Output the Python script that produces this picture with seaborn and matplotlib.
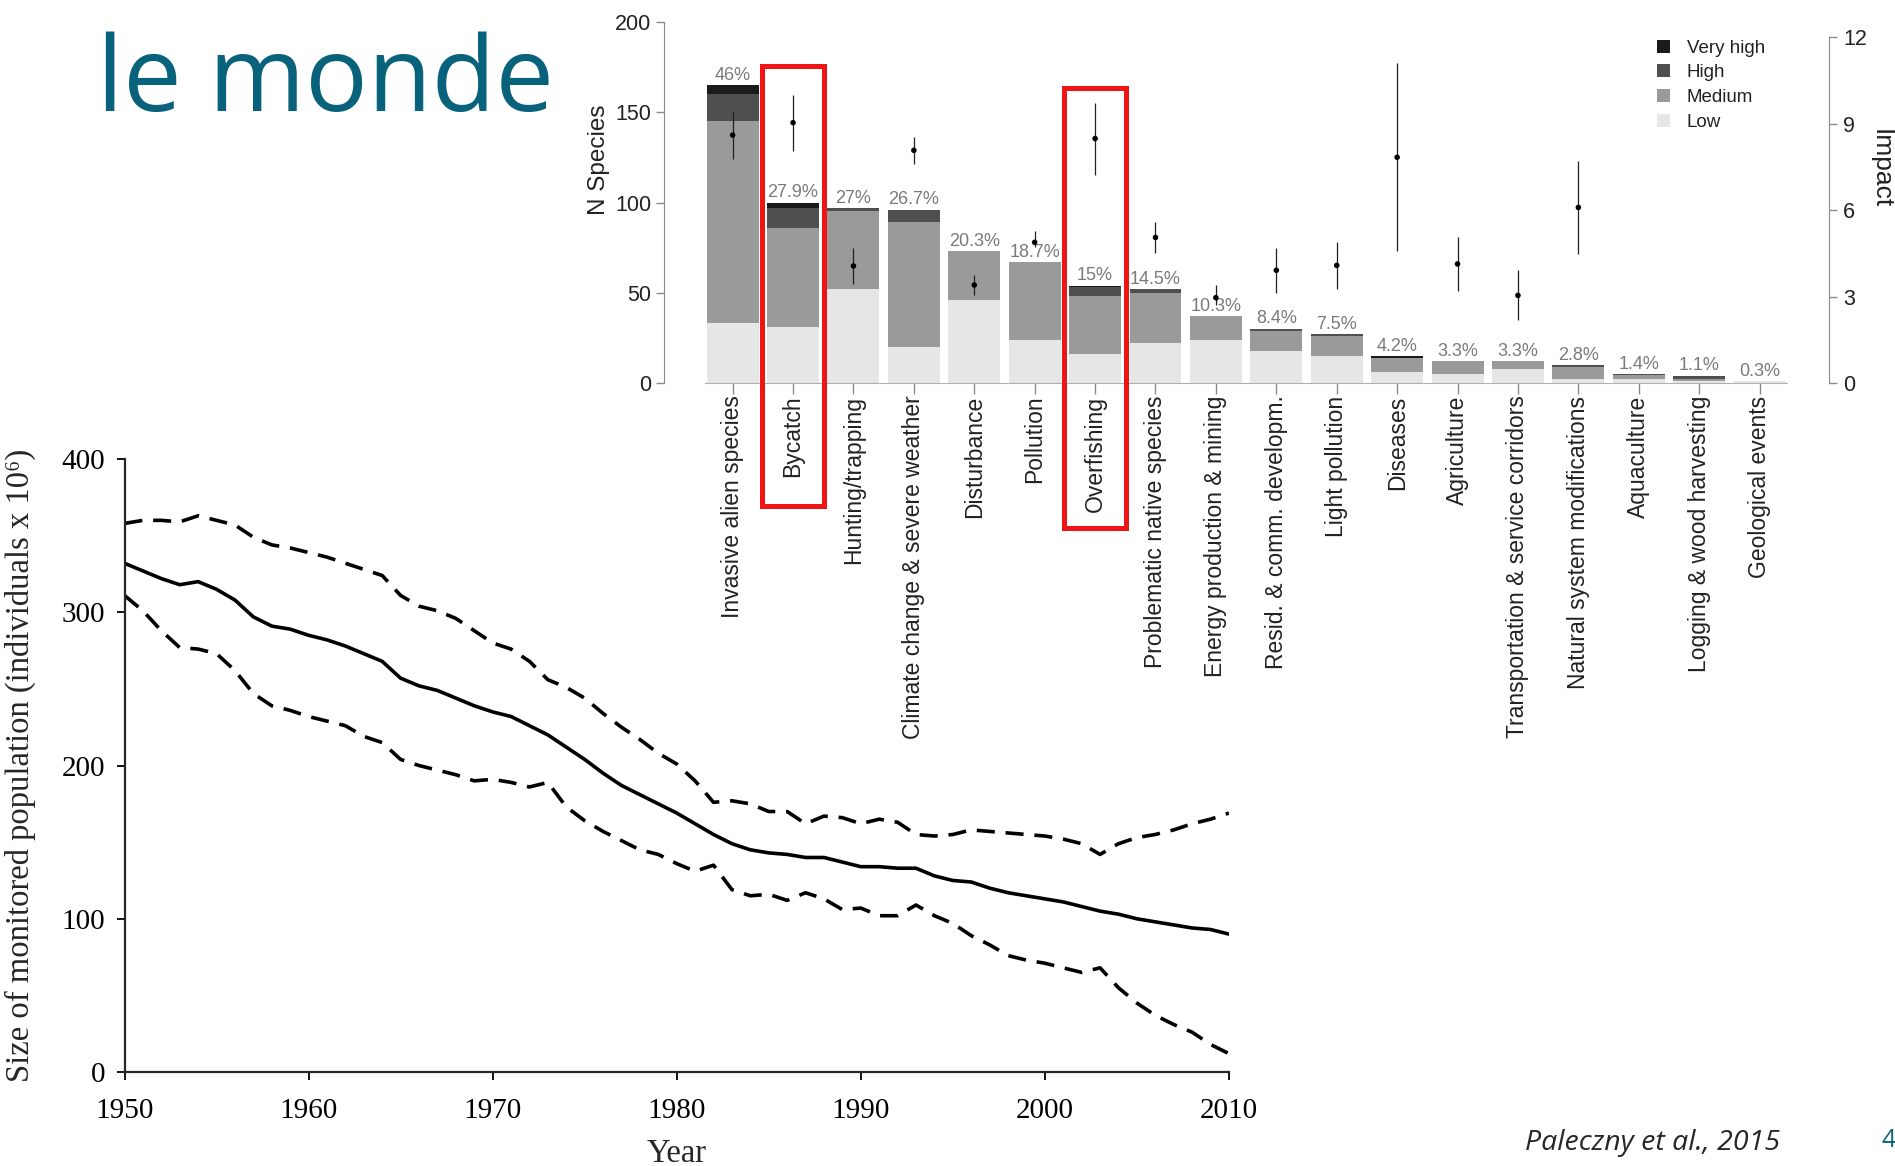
import matplotlib
matplotlib.use("Agg")
import matplotlib.pyplot as plt
import matplotlib.transforms as mtransforms
from matplotlib.patches import Patch, Rectangle
import seaborn as sns

# ---- top chart: threats to seabirds ----
threats = ["Invasive alien species", "Bycatch", "Hunting/trapping",
           "Climate change & severe weather", "Disturbance", "Pollution",
           "Overfishing", "Problematic native species", "Energy production & mining",
           "Resid. & comm. developm.", "Light pollution", "Diseases", "Agriculture",
           "Transportation & service corridors", "Natural system modifications",
           "Aquaculture", "Logging & wood harvesting", "Geological events"]
low = [33, 31, 52, 20, 46, 24, 16, 22, 24, 18, 15, 6, 5, 8, 2, 2, 1, 1]
medium = [112, 55, 43.5, 69, 27, 43, 32, 28, 13, 11, 11, 8, 7, 4, 7, 2.5, 1.5, 0]
high = [15, 11, 1.5, 7, 0, 0, 5, 2, 0, 1, 1, 0, 0, 0, 1, 0.5, 1.5, 0]
very_high = [5, 3, 0, 0, 0, 0, 1, 0, 0, 0, 0, 1, 0, 0, 0, 0, 0, 0]
pct_labels = ["46%", "27.9%", "27%", "26.7%", "20.3%", "18.7%", "15%", "14.5%",
              "10.3%", "8.4%", "7.5%", "4.2%", "3.3%", "3.3%", "2.8%", "1.4%",
              "1.1%", "0.3%"]

# impact (right axis), only the first 15 threats have one
impact_mean = [8.6, 9.03, 4.06, 8.07, 3.4, 4.88, 8.48, 5.05, 2.96, 3.91, 4.08, 7.83,
               4.13, 3.04, 6.09]
impact_lo = [7.76, 8.05, 3.44, 7.59, 3.06, 4.73, 7.23, 4.5, 2.71, 3.12, 3.26, 4.57,
             3.2, 2.17, 4.47]
impact_hi = [9.4, 10.0, 4.67, 8.53, 3.75, 5.27, 9.72, 5.59, 3.4, 4.68, 4.88, 11.1,
             5.05, 3.91, 7.69]

highlighted = ["Bycatch", "Overfishing"]

# ---- bottom chart: monitored seabird population ----
years = list(range(1950, 2011))
pop_mean = [332, 327, 322, 318, 320, 315, 308, 297, 291, 289,
            285, 282, 278, 273, 268, 257, 252, 249, 244, 239,
            235, 232, 226, 220, 212, 204, 195, 187, 181, 175,
            169, 162, 155, 149, 145, 143, 142, 140, 140, 137,
            134, 134, 133, 133, 128, 125, 124, 120, 117, 115,
            113, 111, 108, 105, 103, 100, 98, 96, 94, 93, 90]
pop_upper = [358, 360, 360, 359, 363, 360, 357, 349, 344, 342,
             339, 336, 332, 328, 324, 311, 304, 301, 296, 288,
             280, 276, 268, 256, 251, 244, 234, 225, 217, 208,
             201, 190, 176, 177, 175, 170, 170, 162, 167, 166,
             162, 165, 163, 155, 154, 155, 158, 157, 156, 155,
             154, 152, 149, 142, 149, 153, 155, 158, 162, 165, 169]
pop_lower = [311, 301, 288, 277, 276, 273, 262, 247, 239, 236,
             232, 229, 226, 219, 215, 204, 200, 197, 194, 190,
             191, 189, 186, 189, 173, 164, 157, 151, 145, 142,
             136, 131, 135, 119, 115, 116, 112, 117, 113, 106,
             107, 102, 102, 109, 102, 97, 89, 83, 76, 73,
             71, 68, 65, 68, 55, 45, 37, 31, 26, 18, 12]

level_colors = {"Very high": "#1b1b1b", "High": "#4f4f4f",
                "Medium": "#9a9a9a", "Low": "#e6e6e6"}
TEAL = "#08627c"
AXGRAY = "#8a8a8a"
SANS = ["Liberation Sans", "DejaVu Sans"]
SERIF = ["Liberation Serif", "DejaVu Serif"]


def draw_threats(fig):
    ax = fig.add_axes([0.3504, 0.6715, 0.6148, 0.3096])

    # stacked bars: draw cumulative totals from the top level down
    s1 = [a for a in low]
    s2 = [a + b for a, b in zip(s1, medium)]
    s3 = [a + b for a, b in zip(s2, high)]
    s4 = [a + b for a, b in zip(s3, very_high)]
    for vals, lvl in [(s4, "Very high"), (s3, "High"), (s2, "Medium"), (s1, "Low")]:
        sns.barplot(x=threats, y=vals, color=level_colors[lvl], width=0.86,
                    saturation=1, errorbar=None, linewidth=0, ax=ax)

    for i, (tot, lab) in enumerate(zip(s4, pct_labels)):
        ax.text(i, tot + 0.8, lab, ha="center", va="bottom", fontsize=13,
                color="#7a7a7a", family=SANS)

    ax.set_xlim(-1.136, 18.15)
    ax.set_ylim(0, 200)
    ax.set_yticks([0, 50, 100, 150, 200])
    ax.set_xticks(range(len(threats)))
    ax.set_xticklabels(threats, rotation=90, fontsize=16.5, color="#222222",
                       family=SANS)
    ax.tick_params(axis="y", labelsize=15.5, colors=AXGRAY, labelcolor="#222222",
                   length=6, width=1, pad=3)
    ax.tick_params(axis="x", colors=AXGRAY, labelcolor="#222222", length=8,
                   width=1, pad=1)
    for lab in ax.get_yticklabels():
        lab.set_family(SANS)
    ax.set_xlabel("")
    ax.set_ylabel("N Species", fontsize=17.5, family=SANS, color="#222222")
    ax.yaxis.set_label_coords(-0.046, 0.618)
    for side in ["top", "right"]:
        ax.spines[side].set_visible(False)
    ax.spines["left"].set_color(AXGRAY)
    ax.spines["left"].set_bounds(0, 200)
    ax.spines["bottom"].set_color("#b0b0b0")
    ax.spines["bottom"].set_bounds(-0.45, 17.45)

    # impact on the right axis
    ax2 = ax.twinx()
    pos = list(range(len(impact_mean)))
    ax2.vlines(pos, impact_lo, impact_hi, color="#202020", lw=0.9)
    sns.scatterplot(x=pos, y=impact_mean, color="black", s=16, edgecolor="none",
                    ax=ax2, zorder=4)
    ax2.set_ylim(0, 12.52)
    ax2.set_yticks([0, 3, 6, 9, 12])
    ax2.tick_params(axis="y", labelsize=15.5, colors=AXGRAY, labelcolor="#222222",
                    length=6, width=1, pad=4)
    for lab in ax2.get_yticklabels():
        lab.set_family(SANS)
    for side in ["top", "left", "bottom"]:
        ax2.spines[side].set_visible(False)
    ax2.spines["right"].set_color(AXGRAY)
    ax2.spines["right"].set_bounds(0, 12)
    ax2.set_ylabel("")
    fig.text(1881 / 1895, 1 - 169 / 1166, "Impact", fontsize=19, family=SANS,
             color="#222222", rotation=270, ha="center", va="center")

    # red highlight boxes around two threats
    trans = mtransforms.blended_transform_factory(ax.transData, fig.transFigure)
    box_y = {"Bycatch": (0.566, 0.9434), "Overfishing": (0.5472, 0.9245)}
    for name in highlighted:
        i = threats.index(name)
        y0, y1 = box_y[name]
        ax2.add_patch(Rectangle((i - 0.52, y0), 1.04, y1 - y0, transform=trans,
                                fill=False, ec="#f01414", lw=3.6, clip_on=False,
                                zorder=10))
    ax.set_xlim(-1.136, 18.15)
    ax2.set_ylim(0, 12.52)

    handles = [Patch(facecolor=level_colors[k], edgecolor="none") for k in level_colors]
    leg = ax.legend(handles, list(level_colors), loc="upper left",
                    bbox_to_anchor=(0.8744, 0.966), bbox_transform=fig.transFigure,
                    frameon=False, fontsize=13.5, handlelength=0.7, handleheight=0.7,
                    handletextpad=0.9, labelspacing=0.4, borderpad=0, borderaxespad=0)
    for t in leg.get_texts():
        t.set_family(SANS)
        t.set_color("#222222")


def draw_population(fig):
    ax = fig.add_axes([0.0657, 0.0806, 0.5828, 0.5257])
    sns.lineplot(x=years, y=pop_mean, color="black", lw=2.6, errorbar=None, ax=ax)
    sns.lineplot(x=years, y=pop_upper, color="black", lw=2.6, errorbar=None,
                 linestyle=(0, (5, 3)), ax=ax)
    sns.lineplot(x=years, y=pop_lower, color="black", lw=2.6, errorbar=None,
                 linestyle=(0, (5, 3)), ax=ax)
    ax.set_xlim(1950, 2010)
    ax.set_ylim(0, 400)
    ax.set_xticks(range(1950, 2011, 10))
    ax.set_yticks(range(0, 401, 100))
    ax.tick_params(labelsize=21, length=6, width=1.3, colors="black", pad=8)
    ax.tick_params(axis="x", pad=13)
    for lab in ax.get_xticklabels() + ax.get_yticklabels():
        lab.set_family(SERIF)
    for side in ["top", "right"]:
        ax.spines[side].set_visible(False)
    for side in ["left", "bottom"]:
        ax.spines[side].set_linewidth(1.6)
    ax.set_xlabel("Year", fontsize=23.5, family=SERIF, va="top")
    ax.xaxis.set_label_coords(0.5, -0.108)
    ax.set_ylabel("Size of monitored population (individuals x 10⁶)", fontsize=23.5,
                  family=SERIF)
    ax.yaxis.set_label_coords(-0.08, 0.5)


def main():
    sns.set_style("ticks")
    plt.rcParams["font.family"] = SANS
    fig = plt.figure(figsize=(18.95, 11.66), dpi=100)

    fig.text(97 / 1895, 1 - 111 / 1166, "le monde", fontsize=75, color=TEAL,
             family=["Open Sans", "DejaVu Sans"], va="baseline", ha="left")

    draw_population(fig)
    draw_threats(fig)

    fig.text(1525 / 1895, 1 - 1150 / 1166, "Paleczny et al., 2015", fontsize=20.5,
             fontstyle="italic", family=["Open Sans", "DejaVu Sans"], va="baseline")
    fig.text(1882 / 1895, 1 - 1147 / 1166, "4", fontsize=18, color=TEAL,
             family=["Open Sans", "DejaVu Sans"], va="baseline")

    fig.savefig("out.png", dpi=100)
    plt.close(fig)


if __name__ == "__main__":
    main()
